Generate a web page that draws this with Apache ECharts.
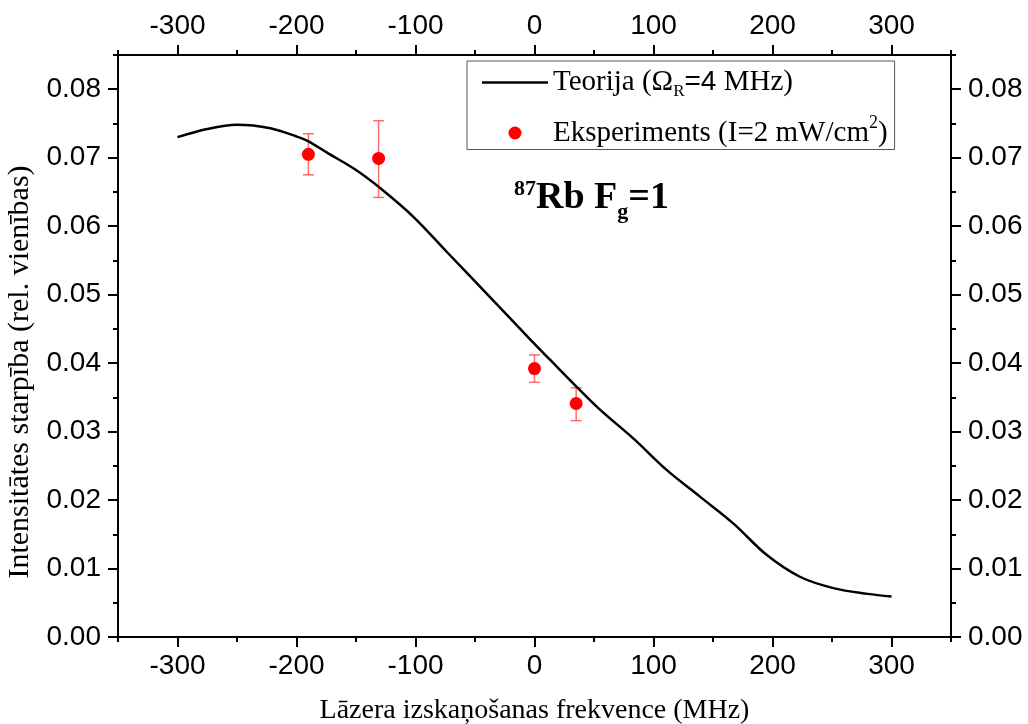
<!DOCTYPE html>
<html><head><meta charset="utf-8">
<script src="https://cdn.jsdelivr.net/npm/echarts@6/dist/echarts.min.js"></script>
<style>html,body{margin:0;padding:0;background:#fff}#c{width:1028px;height:724px}</style>
</head><body><div id="c"></div>
<script>
// ---- data ----
const curveFreq = [-300,-275,-250,-222,-200,-190,-174,-150,-130,-102,-74,-46,-18,0,13,35,55,83,111,139,167,195,223,252,280,300];
const curveVal  = [0.0730,0.0742,0.0748,0.0743,0.0731,0.0724,0.0707,0.0682,0.0656,0.0614,0.0563,0.0512,0.0461,0.0428,0.0405,0.0366,0.0332,0.0290,0.0244,0.0205,0.0166,0.0120,0.0088,0.0071,0.0063,0.0059];
const expFreq = [-190,-131,0,35];
const expVal  = [0.0705,0.0699,0.0392,0.0341];
const errLow  = [0.0675,0.0642,0.0372,0.0316];
const errHigh = [0.0735,0.0754,0.0412,0.0364];
const xMajorTicks = [-300,-200,-100,0,100,200,300];
const xMinorTicks = [-350,-250,-150,-50,50,150,250,350];
const yMajorTicks = [0,0.01,0.02,0.03,0.04,0.05,0.06,0.07,0.08];
const yMinorTicks = [0.005,0.015,0.025,0.035,0.045,0.055,0.065,0.075,0.085];

const SANS = 'Liberation Sans', SERIF = 'Liberation Serif';
const chart = echarts.init(document.getElementById('c'));

function xAx(pos, major, withName) {
  return {
    type:'value', position:pos, min:-350, max:350, interval:50,
    axisLine:{show:major, onZero:false, lineStyle:{color:'#000', width:2}},
    axisTick:{show:true, inside:false, length: major?10:5, customValues: major?xMajorTicks:xMinorTicks, lineStyle:{color:'#000', width:2}},
    axisLabel:{show:major, customValues: xMajorTicks, color:'#000', fontFamily:SANS, fontSize:28, margin:15},
    splitLine:{show:false},
    name: withName ? 'Lāzera izskaņošanas frekvence (MHz)' : '',
    nameLocation:'middle', nameGap:60,
    nameTextStyle:{fontFamily:SERIF, fontSize:28, color:'#000'}
  };
}
function yAx(pos, major, withName) {
  return {
    type:'value', position:pos, min:0, max:0.085, interval:0.005,
    axisLine:{show:major, onZero:false, lineStyle:{color:'#000', width:2}},
    axisTick:{show:true, inside:false, length: major?10:5, customValues: major?yMajorTicks:yMinorTicks, lineStyle:{color:'#000', width:2}},
    axisLabel:{show:major, customValues: yMajorTicks, color:'#000', fontFamily:SANS, fontSize:28, margin:17,
      padding:[4,0,0,0], formatter: v => v.toFixed(2)},
    splitLine:{show:false},
    name: withName ? 'Intensitātes starpība (rel. vienības)' : '',
    nameLocation:'middle', nameGap:80,
    nameTextStyle:{fontFamily:SERIF, fontSize:30, color:'#000', padding:[0,52,0,0]}
  };
}

chart.setOption({
  backgroundColor:'#fff',
  animation:false,
  grid:{left:118, right:77, top:55, bottom:87, containLabel:false, outerBoundsMode:'none'},
  xAxis:[xAx('bottom',true,true), xAx('bottom',false,false), xAx('top',true,false), xAx('top',false,false)],
  yAxis:[yAx('left',true,true), yAx('left',false,false), yAx('right',true,false), yAx('right',false,false)],
  legend:{
    orient:'vertical', left:467, top:61, selectedMode:false,
    itemWidth:66, itemHeight:13, itemGap:14, padding:[7,7,2,15],
    borderColor:'#555', borderWidth:1, backgroundColor:'#fff',
    data:[{name:'theory', icon:'path://M0,0L66,0L66,2.5L0,2.5Z', itemStyle:{color:'#000'}}, {name:'exp', icon:'circle'}],
    formatter: n => n==='theory' ? '{t|Teorija (Ω}{sub|R}{s|=4}{t| MHz)}' : '{t|Eksperiments (I=2 mW/cm}{sup|2}{t|)}',
    textStyle:{color:'#000', fontFamily:SERIF, fontSize:29,
      rich:{
        t:{fontFamily:SERIF, fontSize:29, color:'#000'},
        s:{fontFamily:SANS, fontSize:28, color:'#000'},
        sub:{fontFamily:SERIF, fontSize:17, color:'#000', padding:[18,0,0,0]},
        sup:{fontFamily:SERIF, fontSize:18, color:'#000', padding:[0,0,20,0]}
      }}
  },
  graphic:[{
    type:'text', left:514, top:178,
    style:{
      text:'{sup|87}{b|Rb F}{sub|g}{b|=1}',
      rich:{
        b:{fontFamily:SERIF, fontWeight:'bold', fontSize:38, fill:'#000'},
        sup:{fontFamily:SERIF, fontWeight:'bold', fontSize:22, fill:'#000', padding:[0,0,18,0]},
        sub:{fontFamily:SERIF, fontWeight:'bold', fontSize:22, fill:'#000', padding:[28,0,0,0]}
      }
    }
  }],
  series:[
    {name:'theory', type:'line', xAxisIndex:0, yAxisIndex:0, symbol:'none', smooth:0.35,
     lineStyle:{color:'#000', width:2.5}, itemStyle:{color:'#000'},
     data: curveFreq.map((f,i)=>[f, curveVal[i]])},
    {name:'err', type:'custom', xAxisIndex:0, yAxisIndex:0,
     data: expFreq.map((f,i)=>[f, errLow[i], errHigh[i]]),
     renderItem:(params, api)=>{
       const lo = api.coord([api.value(0), api.value(1)]);
       const hi = api.coord([api.value(0), api.value(2)]);
       const w = 5.5;
       const st = {stroke:'rgba(255,60,60,0.75)', lineWidth:1.5};
       return {type:'group', children:[
         {type:'line', shape:{x1:lo[0], y1:lo[1], x2:hi[0], y2:hi[1]}, style:st},
         {type:'line', shape:{x1:lo[0]-w, y1:lo[1], x2:lo[0]+w, y2:lo[1]}, style:st},
         {type:'line', shape:{x1:hi[0]-w, y1:hi[1], x2:hi[0]+w, y2:hi[1]}, style:st}
       ]};
     }, z:3},
    {name:'exp', type:'scatter', xAxisIndex:0, yAxisIndex:0, symbol:'circle', symbolSize:13,
     itemStyle:{color:'#ff0000', opacity:1}, z:4,
     data: expFreq.map((f,i)=>[f, expVal[i]])}
  ]
});
</script></body></html>
